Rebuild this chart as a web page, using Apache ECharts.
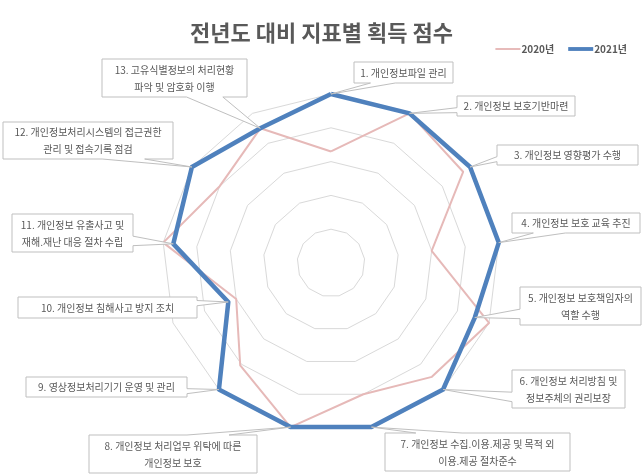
<!DOCTYPE html>
<html>
<head>
<meta charset="utf-8">
<script src="https://cdn.jsdelivr.net/npm/echarts@6/dist/echarts.min.js"></script>
<style>
html,body{margin:0;padding:0;background:#fff;}
#main{width:643px;height:476px;}
</style>
</head>
<body>
<div id="main"></div>
<script>
// ---- data ----
const categories = [
  '1. 개인정보파일 관리',
  '2. 개인정보 보호기반마련',
  '3. 개인정보 영향평가 수행',
  '4. 개인정보 보호 교육 추진',
  '5. 개인정보 보호책임자의\n역할 수행',
  '6. 개인정보 처리방침 및\n정보주체의 권리보장',
  '7. 개인정보 수집.이용.제공 및 목적 외\n이용.제공 절차준수',
  '8. 개인정보 처리업무 위탁에 따른\n개인정보 보호',
  '9. 영상정보처리기기 운영 및 관리',
  '10. 개인정보 침해사고 방지 조치',
  '11. 개인정보 유출사고 및\n재해.재난 대응 절차 수립',
  '12. 개인정보처리시스템의 접근권한\n관리 및 접속기록 점검',
  '13. 고유식별정보의 처리현황\n파악 및 암호화 이행'
];
const values2020 = [66, 100, 95, 60, 100, 90, 80, 100, 81, 60, 100, 80, 90];
const values2021 = [100, 100, 100, 100, 91, 100, 100, 100, 100, 65, 94, 100, 90];
const seriesNames = ['2020년', '2021년'];
const axisMax = 100;

// ---- layout (callout boxes: x, y, w, h) ----
const calloutBoxes = [
  [354, 62, 99, 21],
  [457, 96, 118, 20],
  [497, 145, 141, 20],
  [512, 213, 128, 20],
  [520, 287, 121, 38],
  [512, 370, 113, 38],
  [385, 433, 185, 38],
  [89, 435, 168, 38],
  [26, 377, 161, 20],
  [18, 297, 179, 21],
  [12, 214, 121, 38],
  [3, 122, 170, 37],
  [102, 59, 145, 38]
];

const FONT = '"Noto Sans CJK KR", "Noto Sans", sans-serif';
const TEXT_COLOR = '#595959';
const PINK = '#e6b9b8';
const BLUE = '#4f81bd';

// ECharts radar runs counter-clockwise; reorder so category 1 is on top and the rest go clockwise
const order = [0];
for (let i = categories.length - 1; i >= 1; i--) order.push(i);
const reorder = arr => order.map(i => arr[i]);

const chart = echarts.init(document.getElementById('main'), null, {renderer: 'canvas'});

chart.setOption({
  backgroundColor: '#ffffff',
  animation: false,
  title: {
    text: '전년도 대비 지표별 획득 점수',
    left: 'center',
    top: 17,
    textStyle: {fontFamily: FONT, fontSize: 22, fontWeight: 'bold', color: TEXT_COLOR}
  },
  legend: {
    right: 11,
    top: 39,
    itemWidth: 25,
    itemHeight: 8,
    itemGap: 14,
    textStyle: {fontFamily: FONT, fontSize: 10, fontWeight: 'bold', color: TEXT_COLOR, padding: [0, 0, 0, -4]},
    data: [
      {name: seriesNames[0], icon: 'path://M0,0 M0,8 M0,3 L26,3 L26,5 L0,5 Z', itemStyle: {color: PINK}},
      {name: seriesNames[1], icon: 'path://M0,0 M0,8 M0,2 L26,2 L26,6 L0,6 Z', itemStyle: {color: BLUE}}
    ]
  },
  radar: {
    center: [331, 263],
    radius: 169,
    startAngle: 90,
    shape: 'polygon',
    splitNumber: 5,
    indicator: reorder(categories).map(n => ({name: n, max: axisMax, min: 0})),
    axisName: {show: false},
    axisLine: {show: false},
    axisTick: {show: false},
    axisLabel: {show: false},
    splitArea: {show: false},
    splitLine: {lineStyle: {color: '#d9d9d9', width: 1}}
  },
  series: [{
    type: 'radar',
    symbol: 'none',
    data: [
      {name: seriesNames[0], value: reorder(values2020),
       lineStyle: {color: PINK, width: 2}, itemStyle: {color: PINK}},
      {name: seriesNames[1], value: reorder(values2021),
       lineStyle: {color: BLUE, width: 4.5}, itemStyle: {color: BLUE}}
    ]
  }]
});

// ---- wedge callouts pointing to the 2021 points ----
function tipPoint(catIdx) {
  const pos = order.indexOf(catIdx);
  try {
    const cs = chart.getModel().getComponent('radar', 0).coordinateSystem;
    return cs.dataToPoint(values2021[catIdx], pos);
  } catch (e) {
    const ang = (90 + pos * 360 / categories.length) * Math.PI / 180;
    const r = 169 * values2021[catIdx] / axisMax;
    return [331 + r * Math.cos(ang), 263 - r * Math.sin(ang)];
  }
}

function wedgePoints(box, tip) {
  const [l, t, w, h] = box;
  const r = l + w, b = t + h;
  const hc = l + w / 2, vc = t + h / 2;
  const dx = tip[0] - hc, dy = tip[1] - vc;
  const dq = dx * h / w;
  const pts = [];
  if (Math.abs(dy) > Math.abs(dq)) {
    const x1 = l + w * (dx > 0 ? 7 : 2) / 12;
    const x2 = l + w * (dx > 0 ? 10 : 5) / 12;
    if (dy < 0) {
      pts.push([l, t], [x1, t], tip, [x2, t], [r, t], [r, b], [l, b]);
    } else {
      pts.push([l, t], [r, t], [r, b], [x2, b], tip, [x1, b], [l, b]);
    }
  } else {
    const y1 = t + h * (dy > 0 ? 7 : 2) / 12;
    const y2 = t + h * (dy > 0 ? 10 : 5) / 12;
    if (dx > 0) {
      pts.push([l, t], [r, t], [r, y1], tip, [r, y2], [r, b], [l, b]);
    } else {
      pts.push([l, t], [r, t], [r, b], [l, b], [l, y2], tip, [l, y1]);
    }
  }
  return pts;
}

const graphics = [];
categories.forEach((name, i) => {
  const box = calloutBoxes[i];
  const tip = tipPoint(i);
  graphics.push({
    type: 'polygon',
    z: 100,
    shape: {points: wedgePoints(box, tip)},
    style: {fill: '#ffffff', stroke: '#bfbfbf', lineWidth: 1}
  });
  graphics.push({
    type: 'text',
    z: 101,
    x: box[0] + box[2] / 2,
    y: box[1] + box[3] / 2 + 0.5,
    style: {
      text: name,
      align: 'center',
      verticalAlign: 'middle',
      fill: TEXT_COLOR,
      font: '10px ' + FONT,
      lineHeight: 17
    }
  });
});
chart.setOption({graphic: graphics});
</script>
</body>
</html>
